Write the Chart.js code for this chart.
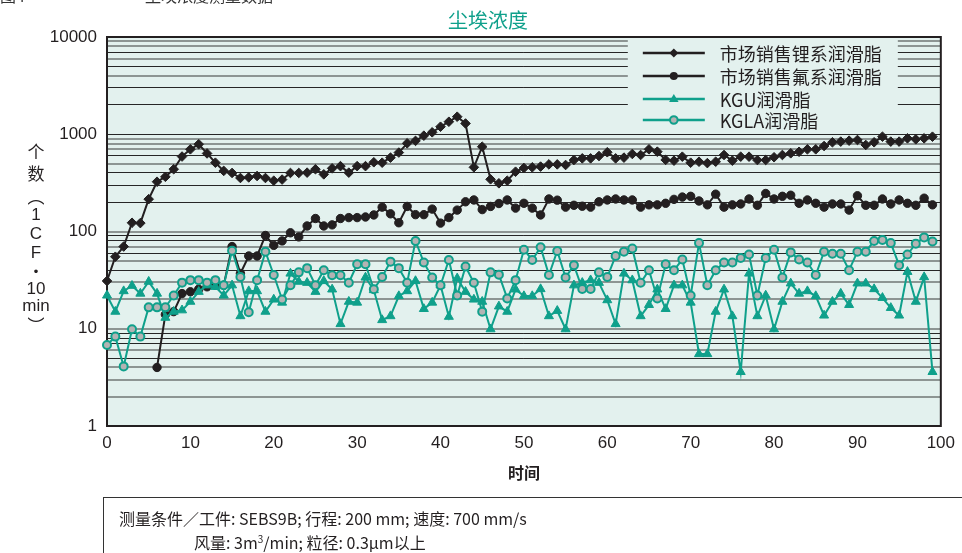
<!DOCTYPE html>
<html><head><meta charset="utf-8">
<script src="https://cdn.jsdelivr.net/npm/chart.js@4"></script>
<style>
html,body{margin:0;padding:0;background:#fff;overflow:hidden;}
#wrap{position:relative;width:962px;height:553px;overflow:hidden;font-family:"Noto Sans CJK SC","Liberation Sans",sans-serif;color:#231f20;}
#c{position:absolute;left:0;top:0;}
.abs{position:absolute;white-space:nowrap;transform:translate(-50%,-50%);line-height:1;}
#title{left:488px;top:20px;font-size:20px;color:#0fa08b;}
.yt{left:36px;font-size:17px;}
#cap1{left:0;top:-13px;font-size:16px;color:#333;position:absolute;line-height:1;}
#cap2{left:145px;top:-13px;font-size:16px;color:#333;position:absolute;letter-spacing:0px;line-height:1;}
#note{position:absolute;left:103px;top:497px;width:900px;height:100px;border:1px solid #333;box-sizing:border-box;}
.nl{position:absolute;font-size:16px;white-space:nowrap;line-height:1;}
</style></head><body>
<div id="wrap">
<canvas id="c" width="962" height="553"></canvas>
<div id="cap1">图4</div>
<div id="cap2">尘埃浓度测量数据</div>
<div id="title" class="abs">尘埃浓度</div>
<div class="abs yt" style="top:150px">个</div>
<div class="abs yt" style="top:172px">数</div>
<div class="abs yt" style="top:195px">︵</div>
<div class="abs yt" style="top:214px;font-family:'Liberation Sans'">1</div>
<div class="abs yt" style="top:233px;font-family:'Liberation Sans'">C</div>
<div class="abs yt" style="top:252px;font-family:'Liberation Sans'">F</div>
<div class="abs yt" style="top:270px">•</div>
<div class="abs yt" style="top:288px;font-family:'Liberation Sans'">10</div>
<div class="abs yt" style="top:305px;font-family:'Liberation Sans'">min</div>
<div class="abs yt" style="top:324px">︶</div>
<div id="note">
  <div class="nl" style="left:15px;top:12px">测量条件／工件: SEBS9B; 行程: 200 mm; 速度: 700 mm/s</div>
  <div class="nl" style="left:90px;top:36px">风量: 3m<sup style="font-size:10px">3</sup>/min; 粒径: 0.3μm以上</div>
</div>
</div>
<script>
// ---- data ----
const seriesNames = ['市场销售锂系润滑脂','市场销售氟系润滑脂','KGU润滑脂','KGLA润滑脂'];
const xTickLabels = [0,10,20,30,40,50,60,70,80,90,100];
const yTickLabels = [1,10,100,1000,10000];

const lithium = [31,55,70,123,122,215,325,365,437,590,
  700,790,635,510,420,400,355,360,372,355,
  333,342,400,400,403,437,387,446,470,403,
  470,470,515,510,575,648,807,855,967,1047,
  1195,1345,1515,1290,457,745,344,313,333,412,
  450,457,465,490,490,483,543,565,565,597,
  653,565,575,627,612,700,662,545,535,588,
  510,522,505,522,612,535,588,588,543,543,
  580,612,637,660,700,700,757,827,840,859,
  873,776,827,944,840,840,908,887,908,944];

const fluorine = [null,null,null,null,null,null,4,14,15,23,
  24,25.5,27,28,28,70,37,56,56,91,
  72,80,97,88,114,136,114,117,136,139,
  139,141,148,178,152,123,181,149,149,170,
  122,139,166,202,211,168,181,194,211,174,
  195,174,148,216,210,178,186,182,178,202,
  211,216,211,211,178,188,188,195,214,226,
  230,206,188,242,178,188,192,216,186,246,
  216,230,236,195,211,195,178,192,192,166,
  233,186,186,216,192,211,195,186,220,188];

const kgu = [22,15,24.4,27.7,23,30.5,23,13,15,15.5,
  19,24,28,27,22,28,13.5,24.4,24.4,15,
  20,18.6,37,30.5,29.7,24,31,25.4,11.2,19,
  18.6,33.7,25,12.3,13.5,21.7,24.4,31,16,18.6,
  28,13.3,33,24,20,19,9.9,17,15,25.4,
  21.7,21.7,25.6,13.5,15.3,9.9,28,29.7,31.6,29.7,
  19.7,11.2,37,31.6,13.5,17.6,25.4,16,28,28,
  18.6,5.5,5.5,15,25.4,13.5,3.6,37,13.5,22,
  9.9,19,29.3,23,24.4,21.7,13.7,19,23,17.6,
  29.3,29.3,25.6,20.8,16.4,13.7,38.5,19,34,3.6];

const kgla = [6.8,8.3,4.1,9.9,8.3,16.6,16.6,16.6,22,29.8,
  31.6,31.6,29.8,31.6,28,63.5,34,14.8,31.6,62,
  35.7,20,28,38,42,28,40,35.5,35.5,29.7,
  46,46,25.5,34,49,42,29.7,80,48,33.7,
  28,51,22,43.6,29.7,15,38,36,20.5,31.6,
  65,51,69,35.7,63,33.7,45,25.6,25.6,38,
  34,56,62,67,29.7,40,20.5,46,40,51.5,
  22,76,28,40,48,48,53.5,58,22,53.5,
  65,33.7,61,51.5,48,35.7,62,59,59,40,
  62,62,80,82,76,45,58,75,87,79];

// ---- styling ----
const BLACK = '#231f20';
const TEAL = '#0fa08b';
const MINT = '#e3f1ee';

const toPts = arr => arr.map((v,i) => ({x:i, y:v}));

// grid values: every integer multiple within each decade
const gridValues = [];
for (let d = 0; d < yTickLabels.length - 1; d++) {
  for (let k = 1; k <= 9; k++) gridValues.push(yTickLabels[d] * k);
}
gridValues.push(yTickLabels[yTickLabels.length - 1]);

function gridStyle(c) {
  const s = c.scale;
  if (!c.tick) return {color:'#333', w:1};
  const px = s.getPixelForValue(c.tick.value);
  const f = px - Math.floor(px);
  if (f > 0.3 && f < 0.8) return {color:'#8d9593', w:2};
  return {color:'#262626', w:1};
}

function drawMarker(ctx, style, x, y) {
  ctx.save();
  ctx.lineWidth = 1;
  if (style === 'diamond') {
    const r = 4.5;
    ctx.fillStyle = BLACK; ctx.beginPath();
    ctx.moveTo(x, y - r); ctx.lineTo(x + r, y); ctx.lineTo(x, y + r); ctx.lineTo(x - r, y); ctx.closePath(); ctx.fill();
  } else if (style === 'dot') {
    ctx.fillStyle = BLACK; ctx.beginPath(); ctx.arc(x, y, 4, 0, Math.PI * 2); ctx.fill();
  } else if (style === 'tri') {
    const r = 5;
    ctx.fillStyle = TEAL; ctx.beginPath();
    ctx.moveTo(x, y - r); ctx.lineTo(x + r * 0.95, y + r * 0.6); ctx.lineTo(x - r * 0.95, y + r * 0.6); ctx.closePath(); ctx.fill();
  } else {
    ctx.fillStyle = '#b3b3b3'; ctx.strokeStyle = TEAL; ctx.lineWidth = 2;
    ctx.beginPath(); ctx.arc(x, y, 3.8, 0, Math.PI * 2); ctx.fill(); ctx.stroke();
  }
  ctx.restore();
}

const framePlugin = {
  id: 'frame',
  beforeDraw(chart) {
    const {ctx, chartArea: a} = chart;
    ctx.save(); ctx.fillStyle = MINT;
    ctx.fillRect(a.left, a.top, a.right - a.left, a.bottom - a.top);
    ctx.restore();
  },
  beforeDatasetsDraw(chart) {
    const {ctx, chartArea: a} = chart;
    ctx.save(); ctx.strokeStyle = BLACK; ctx.lineWidth = 2;
    ctx.strokeRect(a.left, a.top, a.right - a.left, a.bottom - a.top);
    ctx.restore();
    // legend box (covers grid)
    const lx = a.right - 313, ly = a.top + 2, lw = 270, lh = 93;
    ctx.save(); ctx.fillStyle = MINT; ctx.fillRect(lx, ly, lw, lh);
    const styles = [['diamond', BLACK], ['dot', BLACK], ['tri', TEAL], ['ring', TEAL]];
    const rowY = [16, 39, 62, 83];
    ctx.font = '18px "Noto Sans CJK SC", sans-serif';
    ctx.textBaseline = 'middle'; ctx.textAlign = 'left';
    styles.forEach((st, i) => {
      const y = a.top + rowY[i];
      ctx.strokeStyle = st[1]; ctx.lineWidth = 2.5;
      ctx.beginPath(); ctx.moveTo(lx + 15, y); ctx.lineTo(lx + 77, y); ctx.stroke();
      drawMarker(ctx, st[0], lx + 46, y);
      ctx.fillStyle = BLACK;
      ctx.fillText(seriesNames[i], lx + 92, y + 1);
    });
    ctx.restore();
  }
};

const chart = new Chart(document.getElementById('c'), {
  type: 'line',
  data: {
    datasets: [
      {label: seriesNames[0], data: toPts(lithium), borderColor: BLACK, backgroundColor: BLACK, borderWidth: 2,
       pointStyle: 'rectRot', pointRadius: 4.8, pointBorderWidth: 1, order: 4},
      {label: seriesNames[1], data: toPts(fluorine), borderColor: BLACK, backgroundColor: BLACK, borderWidth: 2,
       pointStyle: 'circle', pointRadius: 4.2, pointBorderWidth: 1, order: 3},
      {label: seriesNames[2], data: toPts(kgu), borderColor: TEAL, backgroundColor: TEAL, borderWidth: 2,
       pointStyle: 'triangle', pointRadius: 5.2, pointBorderWidth: 1, order: 2},
      {label: seriesNames[3], data: toPts(kgla), borderColor: TEAL, backgroundColor: '#b3b3b3', borderWidth: 2,
       pointStyle: 'circle', pointRadius: 4, pointBorderWidth: 2, pointBorderColor: TEAL, order: 1}
    ]
  },
  options: {
    responsive: false,
    animation: false,
    devicePixelRatio: 1,
    layout: {padding: {left: 0, right: 19, top: 37, bottom: 0}},
    elements: {line: {tension: 0}},
    datasets: {line: {clip: false, spanGaps: false}},
    plugins: {legend: {display: false}, tooltip: {enabled: false}, title: {display: false}},
    scales: {
      x: {
        type: 'linear', min: 0, max: 100,
        afterFit: s => { s.height = 127; },
        afterBuildTicks: s => { s.ticks = xTickLabels.map(v => ({value: v})); },
        grid: {display: false, drawTicks: false},
        border: {display: false},
        ticks: {autoSkip: false, maxRotation: 0, padding: 7, color: BLACK,
                font: {family: 'Liberation Sans', size: 17}},
        title: {display: true, text: '时间', color: BLACK, padding: {top: 0, bottom: 70},
                font: {family: 'Noto Sans CJK SC', size: 16, weight: 'bold'}}
      },
      y: {
        type: 'logarithmic', min: 1, max: 10000,
        afterFit: s => { s.width = 107; },
        afterBuildTicks: s => { s.ticks = gridValues.map(v => ({value: v})); },
        grid: {drawTicks: false, color: c => gridStyle(c).color, lineWidth: c => gridStyle(c).w},
        border: {display: false},
        ticks: {autoSkip: false, padding: 10, color: BLACK,
                font: {family: 'Liberation Sans', size: 17},
                callback: v => yTickLabels.includes(v) ? String(v) : ''}
      }
    }
  },
  plugins: [framePlugin]
});
</script>
</body></html>
